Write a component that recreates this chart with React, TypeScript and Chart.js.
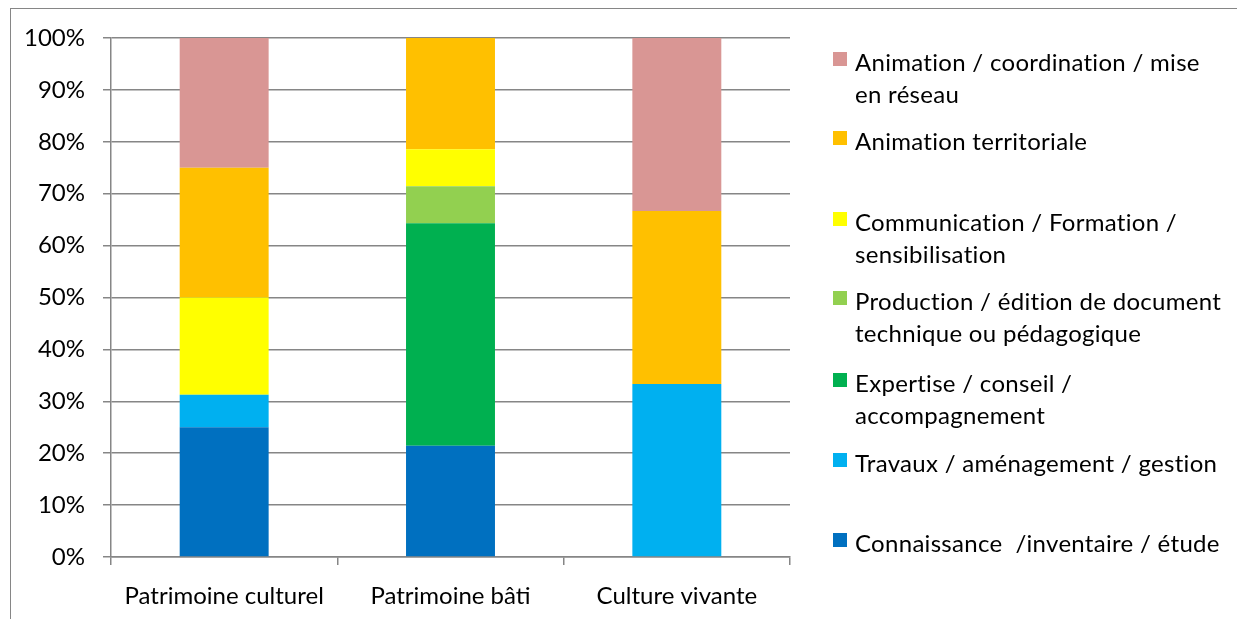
import React, { useEffect, useRef } from "react";
import { Chart, registerables } from "chart.js";

Chart.register(...registerables);

const categories = ["Patrimoine culturel", "Patrimoine bâti", "Culture vivante"];

// Stack order, bottom to top
const connaissance = [25, 21.43, 0];
const travaux = [6.25, 0, 33.33];
const expertise = [0, 42.86, 0];
const production = [0, 7.14, 0];
const communication = [18.75, 7.14, 0];
const animTerritoriale = [25, 21.43, 33.33];
const animCoordination = [25, 0, 33.34];

const yTicks = [0, 10, 20, 30, 40, 50, 60, 70, 80, 90, 100];

const seriesNames = [
  "Connaissance  /inventaire / étude",
  "Travaux / aménagement / gestion",
  "Expertise / conseil / accompagnement",
  "Production / édition de document technique ou pédagogique",
  "Communication / Formation / sensibilisation",
  "Animation territoriale",
  "Animation / coordination / mise en réseau",
];
const seriesData = [connaissance, travaux, expertise, production, communication, animTerritoriale, animCoordination];
const seriesColors = ["#0070C0", "#00B0F0", "#00B050", "#92D050", "#FFFF00", "#FFC000", "#D99694"];

// Legend, top to bottom, with the wrapped lines as in the picture
const legendLines: string[][] = [
  ["Animation / coordination / mise", "en réseau"],
  ["Animation territoriale"],
  ["Communication / Formation /", "sensibilisation"],
  ["Production / édition de document", "technique ou pédagogique"],
  ["Expertise / conseil /", "accompagnement"],
  ["Travaux / aménagement / gestion"],
  ["Connaissance  /inventaire / étude"],
];
const legendColors = ["#D99694", "#FFC000", "#FFFF00", "#92D050", "#00B050", "#00B0F0", "#0070C0"];

const FONT = "Lato, Carlito, Calibri, sans-serif";

export default function App() {
  const ref = useRef<HTMLCanvasElement | null>(null);

  useEffect(() => {
    if (!ref.current) return;
    const chart = new Chart(ref.current, {
      type: "bar",
      data: {
        labels: categories,
        datasets: seriesNames.map((name, i) => ({
          label: name,
          data: seriesData[i],
          backgroundColor: seriesColors[i],
          borderWidth: 0,
          barPercentage: 0.393,
          categoryPercentage: 1,
        })),
      },
      options: {
        animation: false,
        responsive: false,
        maintainAspectRatio: false,
        layout: { padding: { top: 38, right: 447, bottom: 0, left: 0 } },
        plugins: { legend: { display: false }, tooltip: { enabled: false } },
        scales: {
          x: {
            stacked: true,
            offset: true,
            grid: {
              offset: true,
              drawOnChartArea: false,
              drawTicks: true,
              tickLength: 8,
              color: "#868686",
              lineWidth: 1.5,
            },
            border: { color: "#868686", width: 1.5 },
            ticks: {
              color: "#000",
              font: { family: FONT, size: 24 },
              padding: 17,
              maxRotation: 0,
            },
            afterFit: (s: any) => {
              s.height = 62;
            },
          },
          y: {
            stacked: true,
            min: 0,
            max: 100,
            afterBuildTicks: (s: any) => {
              s.ticks = yTicks.map((v) => ({ value: v }));
            },
            grid: {
              color: "#868686",
              lineWidth: 1.5,
              drawTicks: true,
              tickLength: 8,
            },
            border: { color: "#868686", width: 1.5 },
            ticks: {
              color: "#000",
              font: { family: FONT, size: 24 },
              padding: 18,
              callback: (v: any) => v + "%",
            },
            afterFit: (s: any) => {
              s.width = 111;
            },
          },
        },
      },
    });
    return () => chart.destroy();
  }, []);

  const entryTop = [62, 141, 222, 301, 383, 463, 543];

  return (
    <div
      style={{
        position: "fixed",
        left: 0,
        top: 0,
        width: 1237,
        height: 619,
        overflow: "hidden",
        background: "#fff",
        fontFamily: FONT,
      }}
    >
      <div
        style={{
          position: "absolute",
          left: 10,
          top: 8,
          width: 1300,
          height: 700,
          borderLeft: "1.5px solid #868686",
          borderTop: "1.5px solid #868686",
        }}
      />
      <canvas ref={ref} width={1237} height={619} style={{ position: "absolute", left: 0, top: 0 }} />
      {legendLines.map((lines, i) => (
        <div key={i}>
          <div
            style={{
              position: "absolute",
              left: 833,
              top: entryTop[i] - 10,
              width: 14,
              height: 14,
              background: legendColors[i],
            }}
          />
          {lines.map((t, j) => (
            <div
              key={j}
              style={{
                position: "absolute",
                left: 855,
                top: entryTop[i] + j * 32 - 16,
                height: 32,
                lineHeight: "32px",
                fontSize: 24,
                letterSpacing: 0.3,
                color: "#000",
                whiteSpace: "pre",
                fontVariantLigatures: "none",
                fontFeatureSettings: '"liga" 0',
              }}
            >
              {t}
            </div>
          ))}
        </div>
      ))}
    </div>
  );
}
